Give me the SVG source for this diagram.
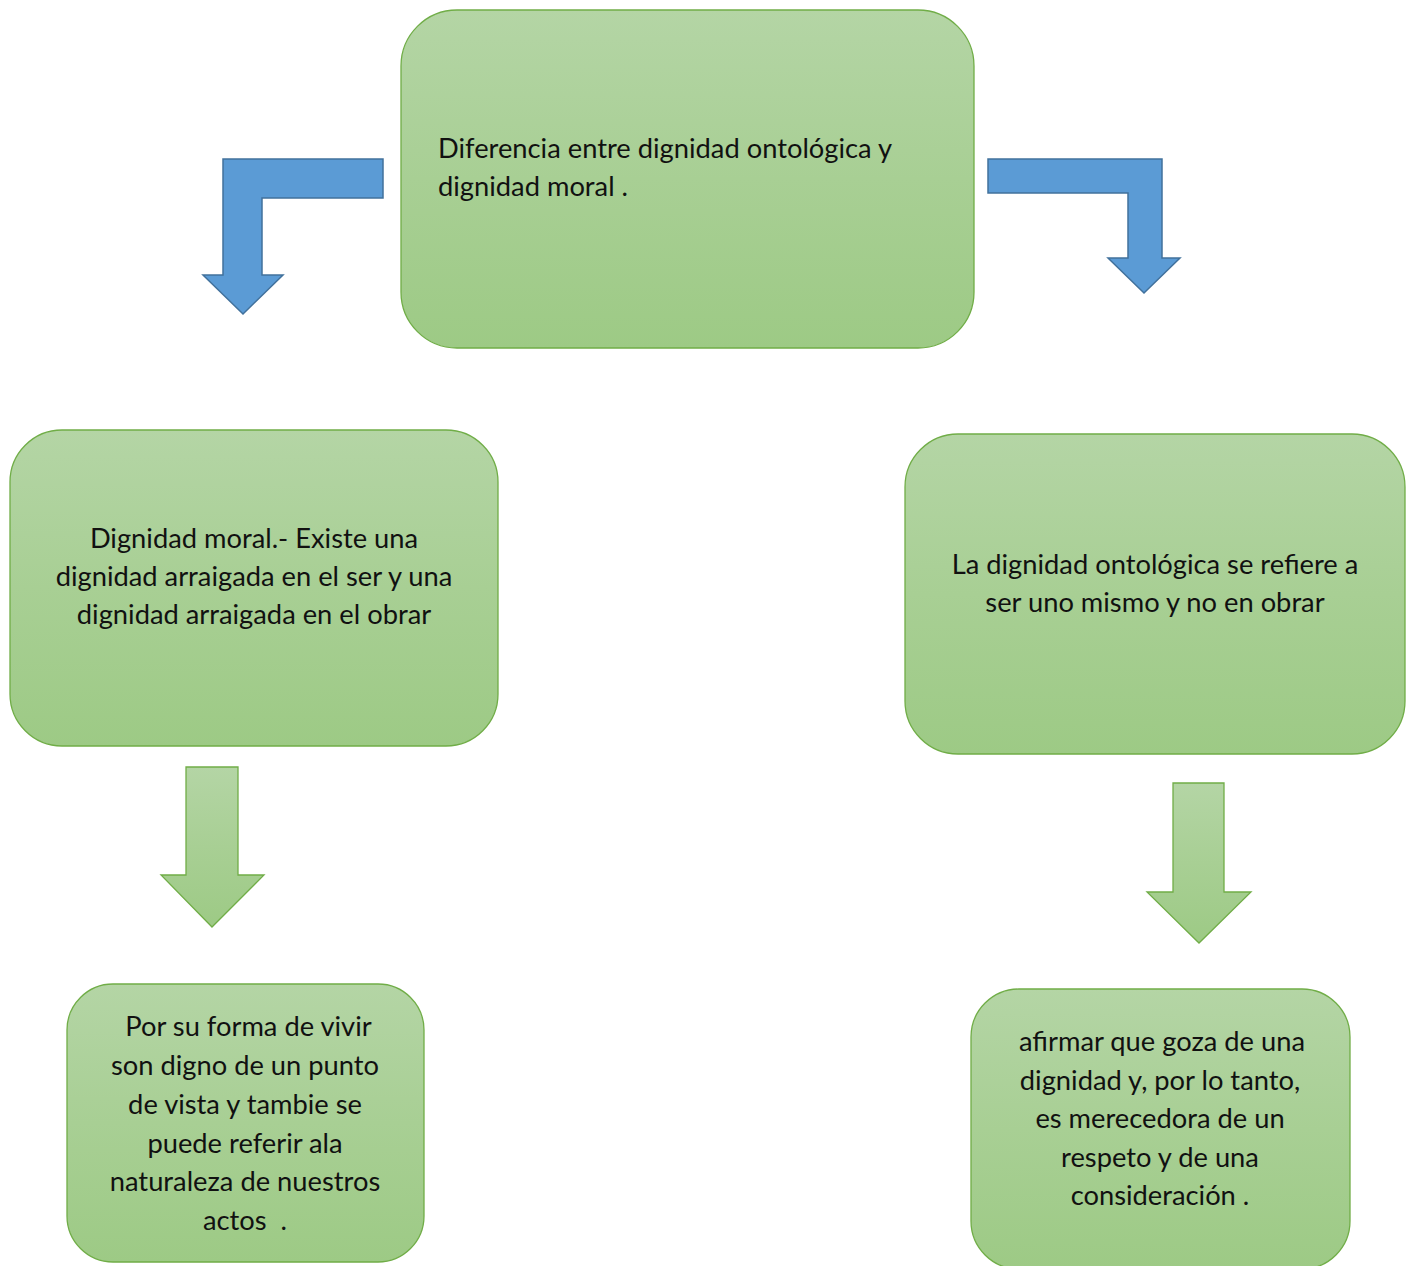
<svg xmlns="http://www.w3.org/2000/svg" width="1408" height="1266" viewBox="0 0 1408 1266">
<defs>
<linearGradient id="gg" x1="0" y1="0" x2="0" y2="1">
<stop offset="0" stop-color="#B4D5A5"/>
<stop offset="0.5" stop-color="#A8CF94"/>
<stop offset="1" stop-color="#9DCA85"/>
</linearGradient>
<style>
.box{fill:url(#gg);stroke:#70AD47;stroke-width:1.3}
.blue{fill:#5B9BD5;stroke:#41719C;stroke-width:1.5}
.garrow{fill:url(#gg);stroke:#70AD47;stroke-width:1.3}
text{font-family:Lato,"Open Sans","Liberation Sans",sans-serif;font-size:27.3px;fill:#111;white-space:pre}
.c{text-anchor:middle}
</style>
</defs>
<rect width="1408" height="1266" fill="#fff"/>
<g id="connectors">
<path class="blue" d="M383,159 L223,159 L223,275 L203,275 L243,314 L283,275 L262,275 L262,198 L383,198 Z"/>
<path class="blue" d="M988,159 L1162,159 L1162,258 L1180,258 L1144,293 L1108,258 L1128,258 L1128,193 L988,193 Z"/>
<path class="garrow" d="M186,767 L238,767 L238,875 L264,875 L212,927 L161,875 L186,875 Z"/>
<path class="garrow" d="M1173,783 L1224,783 L1224,892 L1251,892 L1199,943 L1147,892 L1173,892 Z"/>
</g>
<g id="top">
<rect class="box" x="401" y="10" width="573" height="338" rx="56"/>
<text x="438" y="158">Diferencia entre dignidad ontológica y</text>
<text x="438" y="196">dignidad moral .</text>
</g>
<g id="moral">
<rect class="box" x="10" y="430" width="488" height="316" rx="52"/>
<text class="c" x="254" y="548">Dignidad moral.- Existe una</text>
<text class="c" x="254" y="586">dignidad arraigada en el ser y una</text>
<text class="c" x="254" y="624">dignidad arraigada en el obrar</text>
</g>
<g id="ontologica">
<rect class="box" x="905" y="434" width="500" height="320" rx="53"/>
<text class="c" x="1155" y="574">La dignidad ontológica se refiere a</text>
<text class="c" x="1155" y="612">ser uno mismo y no en obrar</text>
</g>
<g id="vivir">
<rect class="box" x="67" y="984" width="357" height="278" rx="46"/>
<text class="c" x="245" y="1036"> Por su forma de vivir</text>
<text class="c" x="245" y="1075">son digno de un punto</text>
<text class="c" x="245" y="1114">de vista y tambie se</text>
<text class="c" x="245" y="1153">puede referir ala</text>
<text class="c" x="245" y="1191">naturaleza de nuestros</text>
<text class="c" x="245" y="1230">actos  .</text>
</g>
<g id="afirmar">
<rect class="box" x="971" y="989" width="379" height="280" rx="48"/>
<text class="c" x="1162" y="1051">afirmar que goza de una</text>
<text class="c" x="1160" y="1090">dignidad y, por lo tanto,</text>
<text class="c" x="1160" y="1128">es merecedora de un</text>
<text class="c" x="1160" y="1167">respeto y de una</text>
<text class="c" x="1160" y="1205">consideración .</text>
</g>
</svg>
